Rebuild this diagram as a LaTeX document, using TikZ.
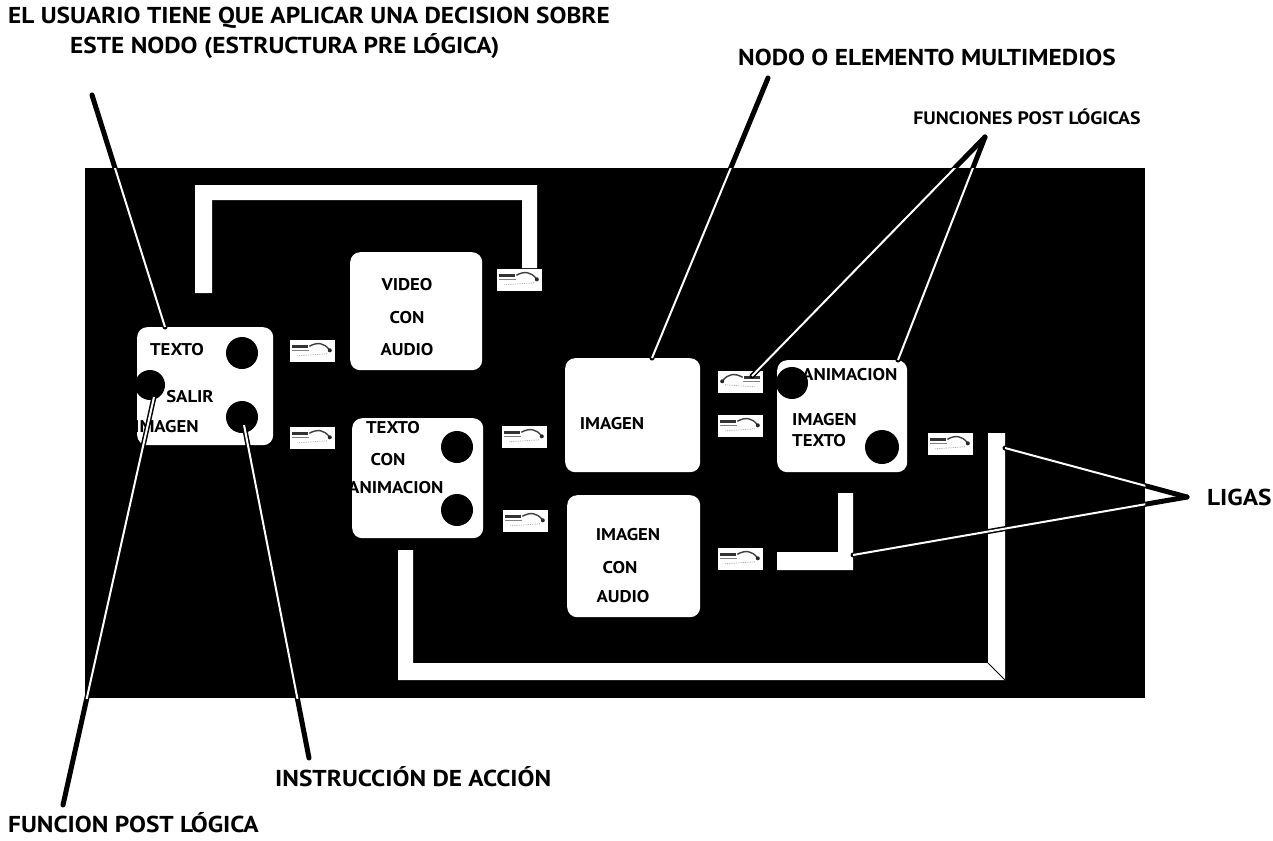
\documentclass[tikz,border=0pt]{standalone}
\usepackage{fontspec}
\setmainfont{PT Sans}[FakeStretch=1.1]
\newcommand\linkart[2]{% #1 node name, #2 extra scope options
  \begin{scope}[shift={(#1.north west)}, #2]
    \fill[black!80] (3,5) rectangle (19,8.5);
    \draw[black!50, line width=0.7pt] (3,11) -- (20,11);
    \draw[black!35, densely dotted, line width=0.8pt] (8,16) -- (38,14);
    \draw[black!75, line width=1.4pt] (20,6.5) .. controls (28,2) and (35,3) .. (40,10);
    \fill[black!85] (40.5,10.5) circle (2);
  \end{scope}}
\begin{document}
\begin{tikzpicture}[x=1pt,y=-1pt,
  panelbox/.style={fill=black, inner sep=0, anchor=north west},
  wbox/.style={fill=white, rounded corners=10pt, inner sep=0, anchor=north west},
  dot/.style={circle, fill=black, inner sep=0, minimum size=32pt},
  txt/.style={font=\bfseries\fontsize{17}{17}\selectfont, inner sep=0},
  lab/.style={font=\bfseries\fontsize{23}{23}\selectfont, inner sep=0, anchor=west},
  linkbar/.style={fill=white},
  ann/.style={line width=5pt, line cap=round},
  anncore/.style={white, line width=2pt},
  linkicon/.style={fill=white, inner sep=0, minimum width=45pt, minimum height=22pt}
]
\useasboundingbox (0,0) rectangle (1273,840);
\fill[white] (0,0) rectangle (1273,840);

% black panel
\node[panelbox, minimum width=1060pt, minimum height=530pt] (panel) at (85,168) {};

% link bars
\fill[linkbar] (195,293) -- (195,185) -- (537,185) -- (537,268) -- (522,268) -- (522,200) -- (212,200) -- (212,293) -- cycle;
\fill[linkbar] (398,550) -- (398,680) -- (1005,680) -- (1005,433) -- (988,433) -- (988,663) -- (413,663) -- (413,550) -- cycle;
\draw[black, line width=0.8pt] (988,663) -- (1005,680);
\fill[linkbar] (777,552) -- (838,552) -- (838,493) -- (853,493) -- (853,570) -- (777,570) -- cycle;

% boxes
\node[wbox, minimum width=136pt, minimum height=118pt] (bA) at (137,327) {};
\node[wbox, minimum width=132pt, minimum height=118pt] (bB) at (350,252) {};
\node[wbox, minimum width=131pt, minimum height=120pt] (bC) at (352,418) {};
\node[wbox, minimum width=135pt, minimum height=114pt] (bD) at (565,358) {};
\node[wbox, minimum width=133pt, minimum height=122pt] (bE) at (567,495) {};
\node[wbox, minimum width=130pt, minimum height=112pt] (bF) at (777,360) {};

% dots
\node[dot] (cA1) at (242,353) {};
\node[dot] (cA2) at (242,417) {};
\node[dot, minimum size=30pt] (cA3) at (150,385) {};
\node[dot] (cC1) at (457,447) {};
\node[dot] (cC2) at (457,510) {};
\node[dot] (cF1) at (792,383) {};
\node[dot, minimum size=34pt] (cF2) at (882,447) {};

% box texts
\node[txt] (xA1) at (177,350) {TEXTO};
\node[txt] (xA2) at (190,397) {SALIR};
\node[txt, anchor=west] (xA3) at (134,427) {IMAGEN};
\node[txt] (xB1) at (407,285) {VIDEO};
\node[txt] (xB2) at (407,318) {CON};
\node[txt] (xB3) at (407,350) {AUDIO};
\node[txt] (xC1) at (393,428) {TEXTO};
\node[txt] (xC2) at (388,460) {CON};
\node[txt, anchor=west] (xC3) at (348,488) {ANIMACION};
\node[txt] (xD1) at (612,424) {IMAGEN};
\node[txt] (xE1) at (628,535) {IMAGEN};
\node[txt] (xE2) at (620,568) {CON};
\node[txt] (xE3) at (623,597) {AUDIO};
\node[txt, anchor=west] (xF0) at (802,375) {ANIMACION};
\node[txt, anchor=west] (xF1) at (792,420) {IMAGEN};
\node[txt, anchor=west] (xF2) at (792,441) {TEXTO};

% link icons
\node[linkicon] (i1) at (312,351) {};
\node[linkicon] (i2) at (312,438) {};
\node[linkicon] (i3) at (519,280) {};
\node[linkicon] (i4) at (524,437) {};
\node[linkicon] (i5) at (525,521) {};
\node[linkicon] (i6) at (740,382) {};
\node[linkicon] (i7) at (740,426) {};
\node[linkicon] (i8) at (740,559) {};
\node[linkicon] (i9) at (950,444) {};
\foreach \n in {i1,i2,i3,i4,i5,i7,i8,i9} {\linkart{\n}{}}
\begin{scope}[shift={(i6.north east)}, xscale=-1]
  \fill[black!80] (3,5) rectangle (19,8.5);
  \draw[black!50, line width=0.7pt] (3,11) -- (20,11);
  \draw[black!35, densely dotted, line width=0.8pt] (8,16) -- (38,14);
  \draw[black!75, line width=1.4pt] (20,6.5) .. controls (28,2) and (35,3) .. (40,10);
  \fill[black!85] (40.5,10.5) circle (2);
\end{scope}

% labels
\node[lab] (t1) at (8,18) {EL USUARIO TIENE QUE APLICAR UNA DECISION SOBRE};
\node[lab] (t2) at (70,46) {ESTE NODO (ESTRUCTURA PRE LÓGICA)};
\node[lab] (t3) at (738,57) {NODO O ELEMENTO MULTIMEDIOS};
\node[lab, anchor=center, font=\bfseries\fontsize{18}{18}\selectfont] (t4) at (1027,117) {FUNCIONES POST LÓGICAS};
\node[lab] (t5) at (1207,497) {LIGAS};
\node[lab] (t6) at (275,777) {INSTRUCCIÓN DE ACCIÓN};
\node[lab] (t7) at (8,823) {FUNCION POST LÓGICA};

% annotation end points
\coordinate (a1) at (92,95);   \coordinate (a1e) at (165,327);
\coordinate (a2) at (63,805);  \coordinate (a2e) at (154,397);
\coordinate (a3) at (309,758); \coordinate (a3e) at (244,425);
\coordinate (a4) at (768,78);  \coordinate (a4e) at (652,358);
\coordinate (a5) at (985,137); \coordinate (a5e) at (752,376); \coordinate (a5f) at (898,360);
\coordinate (a6) at (1187,497); \coordinate (a6e) at (1005,448); \coordinate (a6f) at (853,555);

\foreach \p/\q in {a1/a1e, a2/a2e, a3/a3e, a4/a4e, a5/a5e, a5/a5f, a6/a6e, a6/a6f}
  \draw[ann] (\p) -- (\q);
\begin{scope}
  \clip (panel.north west) rectangle (panel.south east);
  \foreach \p/\q in {a1/a1e, a2/a2e, a3/a3e, a4/a4e, a5/a5e, a5/a5f, a6/a6e, a6/a6f}
    \draw[anncore] (\p) -- (\q);
\end{scope}
\end{tikzpicture}
\end{document}
